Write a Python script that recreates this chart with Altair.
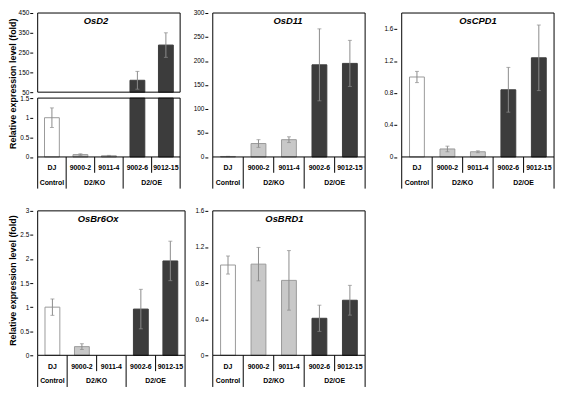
import altair as alt
import pandas as pd

categories = ["DJ", "9000-2", "9011-4", "9002-6", "9012-15"]
group_of = ["Control", "D2/KO", "D2/KO", "D2/OE", "D2/OE"]
groups = ["Control", "D2/KO", "D2/OE"]
group_center = [0, 1.5, 3.5]
bounds_long = [-0.5, 0.5, 2.5, 4.5]
bounds_short = [1.5, 3.5]

osd2_mean = [1.0, 0.06, 0.03, 110, 288]
osd2_sd = [0.25, 0.02, 0.01, 45, 62]
osd11_mean = [1.0, 28, 36, 192, 195]
osd11_sd = [0.3, 8, 6, 75, 48]
oscpd1_mean = [1.0, 0.10, 0.065, 0.84, 1.24]
oscpd1_sd = [0.07, 0.035, 0.012, 0.28, 0.41]
osbr6ox_mean = [1.0, 0.18, 0.0, 0.96, 1.96]
osbr6ox_sd = [0.17, 0.06, 0.0, 0.41, 0.41]
osbrd1_mean = [1.0, 1.01, 0.83, 0.41, 0.61]
osbrd1_sd = [0.10, 0.185, 0.33, 0.145, 0.165]

FONT = "Liberation Sans"
FILLS = ["#ffffff", "#c8c8c8", "#3c3c3c"]
STROKES = ["#9a9a9a", "#9a9a9a", "#3c3c3c"]
ERR = "#8c8c8c"
YTITLE = "Relative expression level (fold)"


def gene_df(mean, sd):
    return pd.DataFrame({
        "idx": list(range(5)), "cat": categories, "grp": group_of,
        "mean": mean,
        "lo": [m - s for m, s in zip(mean, sd)],
        "hi": [m + s for m, s in zip(mean, sd)],
    })


def xscale(xrange):
    if xrange is None:
        return alt.Scale(domain=[-0.5, 4.5])
    return alt.Scale(domain=[-0.5, 4.5], range=xrange)


def xs(field, xrange):
    return alt.X(field, type="quantitative", scale=xscale(xrange), axis=None)


def yaxis(ticks, title=None, title_y=None):
    kw = dict(values=ticks, orient="left", domain=False, grid=False, tickSize=3,
              tickColor="black", labelFont=FONT, labelFontSize=6.5, labelColor="black",
              labelPadding=1, format=".2~f")
    if title is None:
        kw["title"] = None
    else:
        kw.update(title=title, titleFont=FONT, titleFontSize=9, titleFontWeight="bold",
                  titleColor="black", titleX=-15, titleY=title_y, titleBaseline="bottom")
    return alt.Axis(**kw)


def data_layers(df, ysc, yax, xrange, ylo, yhi, bar_filter, err_filter):
    bars = alt.Chart(df).transform_filter(bar_filter).mark_bar(
        size=15, strokeWidth=1, orient="vertical").encode(
        x=xs("idx", xrange),
        y=alt.Y("mean:Q", scale=ysc, axis=yax, stack=None),
        fill=alt.Fill("grp:N", scale=alt.Scale(domain=groups, range=FILLS), legend=None),
        stroke=alt.Stroke("grp:N", scale=alt.Scale(domain=groups, range=STROKES), legend=None),
    )
    rules = alt.Chart(df).transform_filter(err_filter).mark_rule(
        color=ERR, strokeWidth=1).encode(
        x=xs("idx", xrange), y=alt.Y("lo:Q", scale=ysc, axis=yax), y2="hi:Q")
    cap_lo = alt.Chart(df).transform_filter(err_filter).mark_tick(
        color=ERR, orient="horizontal", size=4, thickness=1).encode(
        x=xs("idx", xrange), y=alt.Y("lo:Q", scale=ysc, axis=yax))
    cap_hi = alt.Chart(df).transform_filter(err_filter).mark_tick(
        color=ERR, orient="horizontal", size=4, thickness=1).encode(
        x=xs("idx", xrange), y=alt.Y("hi:Q", scale=ysc, axis=yax))
    frame = alt.Chart(pd.DataFrame({"x0": [-0.5], "x1": [4.5], "y0": [ylo], "y1": [yhi]})).mark_rect(
        fillOpacity=0, stroke="black", strokeWidth=1).encode(
        x=xs("x0", xrange), x2="x1", y=alt.Y("y0:Q", scale=ysc, axis=yax), y2="y1")
    return [bars, rules, cap_lo, cap_hi, frame]


def table_layers(df, H, xrange, gene, gene_x):
    gdf = pd.DataFrame({"gx": group_center, "grp": groups})
    longs = alt.Chart(pd.DataFrame({"b": bounds_long})).mark_rule(
        color="black", strokeWidth=1).encode(
        x=xs("b", xrange), y=alt.value(H), y2=alt.value(H + 32))
    shorts = alt.Chart(pd.DataFrame({"b": bounds_short})).mark_rule(
        color="black", strokeWidth=1).encode(
        x=xs("b", xrange), y=alt.value(H), y2=alt.value(H + 16))
    cats = alt.Chart(df).mark_text(font=FONT, fontSize=7, fontWeight="bold",
                                   baseline="middle", color="black").encode(
        x=xs("idx", xrange), y=alt.value(H + 11.5), text="cat:N")
    grps = alt.Chart(gdf).mark_text(font=FONT, fontSize=7, fontWeight="bold",
                                    baseline="middle", color="black").encode(
        x=xs("gx", xrange), y=alt.value(H + 26.5), text="grp:N")
    name = alt.Chart(pd.DataFrame({"gene": [gene]})).mark_text(
        font=FONT, fontSize=9.5, fontWeight="bold", fontStyle="italic",
        baseline="alphabetic", color="black").encode(
        x=alt.XDatum(gene_x, type="quantitative", scale=xscale(xrange), axis=None),
        y=alt.value(11.5), text="gene:N")
    return [longs, shorts, cats, grps, name]


def panel(gene, mean, sd, ymax, ticks, W, H, gene_x, xrange=None, ytitle=None):
    df = gene_df(mean, sd)
    ysc = alt.Scale(domain=[0, ymax])
    yax = yaxis(ticks, ytitle, 70 if ytitle else None)
    layers = data_layers(df, ysc, yax, xrange, 0, ymax, "datum.mean > 0", "datum.hi > datum.lo")
    layers += table_layers(df, H, xrange, gene, gene_x)
    return alt.layer(*layers).properties(width=W, height=H)


H1 = 145.5
H2 = 146

# OsD2 with broken axis
d2 = gene_df(osd2_mean, osd2_sd)
up_sc = alt.Scale(domain=[50, 450], range=[80, 0], clamp=True)
lo_sc = alt.Scale(domain=[0, 1.5], range=[H1, 86], clamp=True)
up_ax = yaxis([50, 150, 250, 350, 450], YTITLE, 71)
lo_ax = yaxis([0, 0.5, 1, 1.5])
upper = alt.layer(*data_layers(d2, up_sc, up_ax, None, 50, 450,
                               "datum.mean > 50", "datum.lo > 50"))
lower = alt.layer(*(data_layers(d2, lo_sc, lo_ax, None, 0, 1.5,
                                "datum.mean > 0", "datum.hi < 1.5")
                    + table_layers(d2, H1, None, "OsD2", 1.55)))
p_osd2 = alt.layer(upper, lower).resolve_scale(y="independent").resolve_axis(
    y="independent").properties(width=154, height=H1)

p_osd11 = panel("OsD11", osd11_mean, osd11_sd, 300, [0, 50, 100, 150, 200, 250, 300],
                173, H1, 1.97, xrange=[0, 164])
p_oscpd1 = panel("OsCPD1", oscpd1_mean, oscpd1_sd, 1.8, [0, 0.4, 0.8, 1.2, 1.6], 164, H1, 2.0)
p_osbr6ox = panel("OsBr6Ox", osbr6ox_mean, osbr6ox_sd, 3, [0, 0.5, 1, 1.5, 2, 2.5, 3],
                  159, H2, 1.55, ytitle=YTITLE)
p_osbrd1 = panel("OsBRD1", osbrd1_mean, osbrd1_sd, 1.6, [0, 0.4, 0.8, 1.2, 1.6], 164, H2, 1.85)

chart = alt.concat(p_osd2, p_osd11, p_oscpd1, p_osbr6ox, p_osbrd1, columns=3,
                   spacing={"row": 54, "column": 18}, bounds="flush").properties(
    padding=0, background="white").configure_view(stroke=None)

chart.save("out.html", embed_options={"renderer": "svg", "actions": False})
